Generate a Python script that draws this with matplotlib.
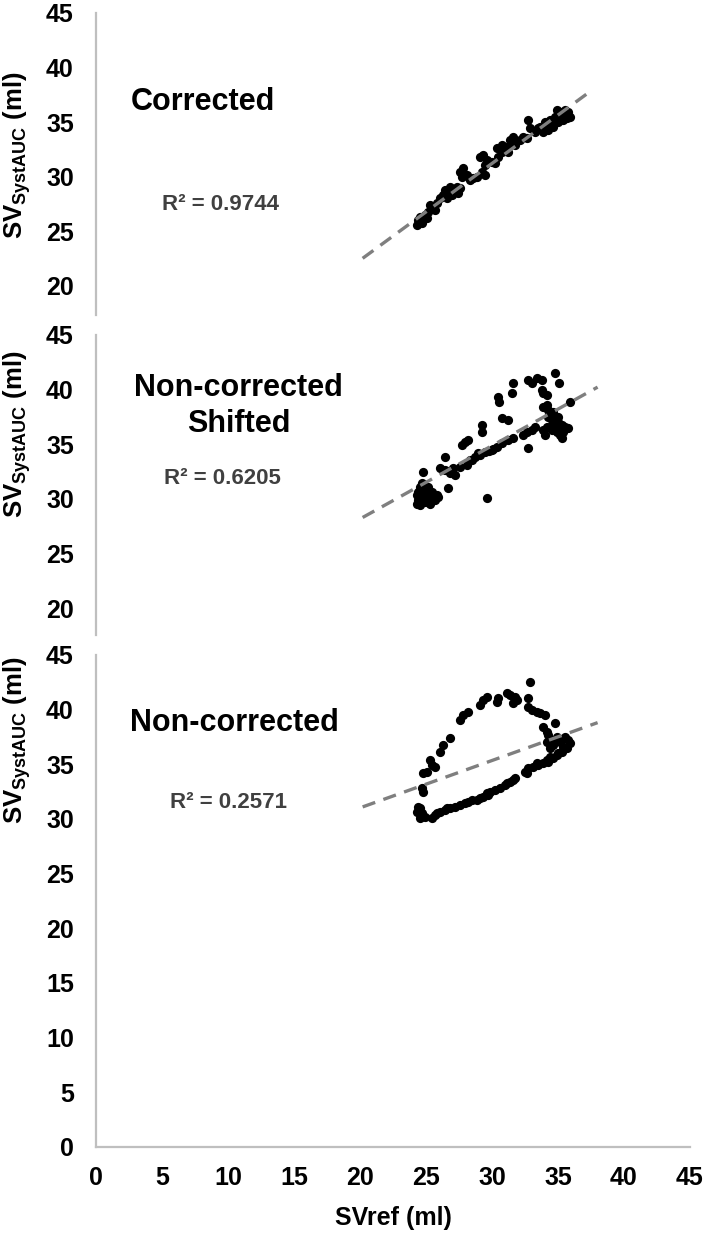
import matplotlib
matplotlib.use("Agg")
import matplotlib.pyplot as plt
import numpy as np

plt.rcParams['font.family'] = ['Liberation Sans', 'DejaVu Sans']
plt.rcParams['mathtext.fontset'] = 'custom'
plt.rcParams['mathtext.rm'] = 'Liberation Sans'
plt.rcParams['mathtext.bf'] = 'Liberation Sans:bold'

# corrected
x_corr = [24.29, 24.42, 24.67, 24.54, 24.92, 25.18, 25.05, 25.43, 25.68, 25.30,
          25.81, 26.06, 26.31, 26.44, 26.69, 26.56, 26.94, 27.20, 27.45, 27.57,
          26.82, 27.32, 27.57, 27.83, 28.08, 27.70, 28.33, 28.58, 28.84, 29.22,
          29.47, 29.09, 29.34, 29.59, 29.47, 29.97, 30.23, 30.48, 30.73, 30.35,
          30.73, 31.11, 31.36, 31.61, 31.24, 31.74, 32.12, 32.37, 32.62, 32.75,
          32.88, 33.26, 33.64, 33.89, 34.14, 34.01, 34.39, 34.52, 34.77, 35.02,
          35.28, 35.53, 35.78, 35.91, 35.40, 35.02, 34.65, 34.27, 35.66, 35.15,
          34.90, 33.51]
y_corr = [25.55, 26.01, 25.71, 26.32, 26.47, 26.78, 26.17, 27.08, 26.93, 27.39,
          27.54, 28.00, 28.31, 28.76, 28.61, 28.00, 28.31, 28.61, 28.46, 28.92,
          29.07, 29.07, 30.45, 30.75, 30.14, 29.99, 29.68, 29.83, 29.99, 30.45,
          30.14, 31.82, 31.98, 31.52, 31.06, 31.36, 31.21, 31.82, 32.28, 32.59,
          32.89, 32.74, 33.35, 33.66, 32.28, 32.89, 33.35, 33.66, 33.50, 35.19,
          34.42, 34.12, 34.57, 34.12, 34.42, 35.03, 35.19, 34.73, 35.49, 35.80,
          35.95, 36.10, 35.95, 35.49, 35.19, 35.03, 34.57, 34.27, 35.34, 35.65,
          36.10, 34.42]

# non-corrected, shifted
x_shift = [24.29, 24.42, 24.54, 24.67, 24.80, 24.92, 25.05, 25.18, 25.30, 25.43,
           25.55, 25.68, 25.81, 24.42, 24.54, 24.67, 25.05, 24.29, 25.18, 25.93,
           24.80, 26.69, 26.06, 26.44, 26.82, 27.20, 27.07, 26.44, 27.57, 28.08,
           27.70, 27.95, 28.21, 28.33, 28.71, 29.09, 29.47, 29.27, 29.27, 29.59,
           29.97, 30.35, 30.73, 31.24, 31.61, 30.48, 30.53, 30.73, 31.24, 31.54,
           31.61, 32.37, 32.62, 33.00, 33.26, 32.75, 32.75, 33.00, 33.38, 33.76,
           33.76, 33.89, 34.14, 34.77, 35.07, 35.91, 33.89, 34.14, 34.27, 34.39,
           34.52, 34.65, 34.77, 35.02, 35.28, 35.53, 35.78, 35.40, 35.15, 34.90,
           34.52, 34.14, 33.89, 34.27, 34.65, 35.02, 35.28, 34.01, 28.50, 28.95,
           29.80, 30.10]
y_shift = [29.58, 29.89, 29.43, 30.19, 30.50, 29.74, 30.04, 30.35, 29.58, 30.65,
           30.19, 29.89, 30.35, 30.65, 31.11, 31.42, 30.96, 30.35, 31.11, 30.19,
           32.48, 30.96, 32.79, 32.64, 32.33, 32.18, 32.79, 33.80, 32.94, 33.10,
           34.93, 35.23, 35.38, 33.55, 33.86, 34.01, 34.32, 36.76, 36.15, 30.13,
           34.47, 34.77, 35.08, 35.38, 35.54, 39.35, 38.89, 37.37, 37.22, 39.66,
           40.63, 35.84, 36.15, 36.30, 36.61, 34.62, 40.88, 40.57, 41.03, 40.88,
           39.96, 39.66, 39.50, 41.49, 40.63, 38.89, 38.44, 38.59, 38.13, 37.67,
           37.22, 36.91, 36.61, 37.06, 36.76, 36.61, 36.45, 36.15, 35.84, 36.15,
           36.30, 36.61, 36.30, 37.52, 37.98, 37.52, 35.54, 35.84, 33.60, 34.20,
           34.40, 34.60]

# non-corrected
x_raw = [24.55, 24.67, 24.55, 24.92, 25.43, 25.68, 26.06, 26.44, 26.82, 27.20,
         27.58, 28.21, 28.46, 29.09, 29.60, 29.85, 30.23, 30.61, 30.98, 31.36,
         31.74, 32.50, 32.75, 33.13, 33.51, 33.89, 34.27, 34.65, 34.90, 35.28,
         35.66, 35.91, 35.78, 35.53, 24.29, 24.42, 25.81, 26.57, 27.95, 28.84,
         29.34, 29.72, 31.11, 31.62, 32.63, 33.38, 34.14, 34.39, 35.03, 35.40,
         24.67, 24.80, 24.80, 25.05, 25.43, 25.68, 25.30, 26.06, 26.31, 26.82,
         27.58, 27.83, 28.21, 29.09, 29.34, 29.60, 30.35, 30.48, 31.11, 31.36,
         31.62, 31.74, 31.87, 32.75, 32.88, 32.75, 33.00, 33.38, 33.64, 34.01,
         33.89, 34.14, 34.27, 34.77, 34.52, 34.65, 34.90, 35.15, 34.14, 34.39]
y_raw = [30.97, 30.51, 30.06, 30.21, 30.06, 30.36, 30.67, 30.82, 30.97, 31.12,
         31.28, 31.58, 31.73, 31.88, 32.34, 32.50, 32.65, 32.80, 33.10, 33.41,
         33.72, 34.33, 34.63, 34.78, 34.94, 35.09, 35.24, 35.55, 35.85, 36.16,
         36.46, 36.92, 37.22, 37.53, 30.67, 31.12, 30.51, 30.97, 31.43, 31.73,
         32.04, 32.19, 33.26, 33.56, 34.17, 35.09, 35.39, 35.70, 36.00, 36.61,
         32.80, 32.50, 34.17, 34.33, 34.94, 34.78, 35.39, 36.16, 36.76, 37.38,
         39.05, 39.51, 39.82, 40.43, 40.88, 41.19, 40.73, 41.04, 41.49, 41.34,
         40.58, 41.19, 40.88, 41.04, 42.56, 40.27, 39.97, 39.82, 39.66, 39.51,
         38.44, 37.99, 37.68, 38.75, 37.22, 36.76, 37.53, 37.07, 37.07, 36.46]

# trendlines (slope, intercept, x range)
trend_corr = (0.888, 4.56, 20.2, 37.3)
trend_shift = (0.670, 14.77, 20.2, 38.0)
trend_raw = (0.433, 22.36, 20.2, 38.0)

titles = ['Corrected', 'Non-corrected\nShifted', 'Non-corrected']
r2_labels = ['R² = 0.9744', 'R² = 0.6205', 'R² = 0.2571']
yticks_top = [20, 25, 30, 35, 40, 45]
yticks_bottom = [0, 5, 10, 15, 20, 25, 30, 35, 40, 45]
xticks = [0, 5, 10, 15, 20, 25, 30, 35, 40, 45]

W, H = 708, 1235
fig = plt.figure(figsize=(W / 100, H / 100), dpi=100)


def px_axes(left, right, top, bottom):
    return fig.add_axes([left / W, 1 - bottom / H, (right - left) / W, (bottom - top) / H])


ax1 = px_axes(96, 690, 13, 315)
ax2 = px_axes(96, 690, 335, 635)
ax3 = px_axes(96, 690, 655, 1147)

panels = [
    (ax1, x_corr, y_corr, trend_corr, (17.3, 45), yticks_top, (8.1, 36.8), (9.4, 27.4), 155),
    (ax2, x_shift, y_shift, trend_shift, (17.55, 45), yticks_top, (10.8, 38.5), (9.55, 31.9), 434),
    (ax3, x_raw, y_raw, trend_raw, (0, 45), yticks_bottom, (10.45, 38.8), (10.0, 31.55), 740),
]

axis_col = '#bfbfbf'
for i, (ax, xs, ys, tr, ylim, yt, tpos, rpos, ylab_y) in enumerate(panels):
    ax.scatter(xs, ys, s=44, color='black', linewidths=0, zorder=2)
    slope, icpt, x0, x1 = tr
    xl = np.array([x0, x1])
    ax.plot(xl, slope * xl + icpt, color='#7f7f7f', lw=2.4, dashes=(4, 2.6), zorder=3)
    ax.set_xlim(0, 45)
    ax.set_ylim(*ylim)
    ax.set_yticks(yt)
    ax.tick_params(axis='y', length=0, pad=16, labelsize=18)
    for lab in ax.get_yticklabels():
        lab.set_fontweight('bold')
    for s in ['top', 'right']:
        ax.spines[s].set_visible(False)
    ax.spines['left'].set_color(axis_col)
    ax.spines['left'].set_linewidth(1.6)
    if ax is ax3:
        ax.spines['bottom'].set_color(axis_col)
        ax.spines['bottom'].set_linewidth(1.6)
        ax.set_xticks(xticks)
        ax.tick_params(axis='x', length=0, pad=14, labelsize=18)
        for lab in ax.get_xticklabels():
            lab.set_fontweight('bold')
        ax.set_xlabel('SVref (ml)', fontsize=18, fontweight='bold', labelpad=11)
    else:
        ax.spines['bottom'].set_visible(False)
        ax.set_xticks([])
    ax.patch.set_alpha(0)
    ax.text(tpos[0], tpos[1], titles[i], fontsize=22, fontweight='bold',
            ha='center', va='center', multialignment='center', linespacing=1.25)
    ax.text(rpos[0], rpos[1], r2_labels[i], fontsize=16, fontweight='bold',
            color='#404040', ha='center', va='center')
    fig.text(17 / W, 1 - ylab_y / H, r'SV$_{\mathbf{SystAUC}}$ (ml)', fontsize=18.5,
             fontweight='bold', rotation=90, ha='center', va='center')

fig.savefig('out.png', dpi=100)
